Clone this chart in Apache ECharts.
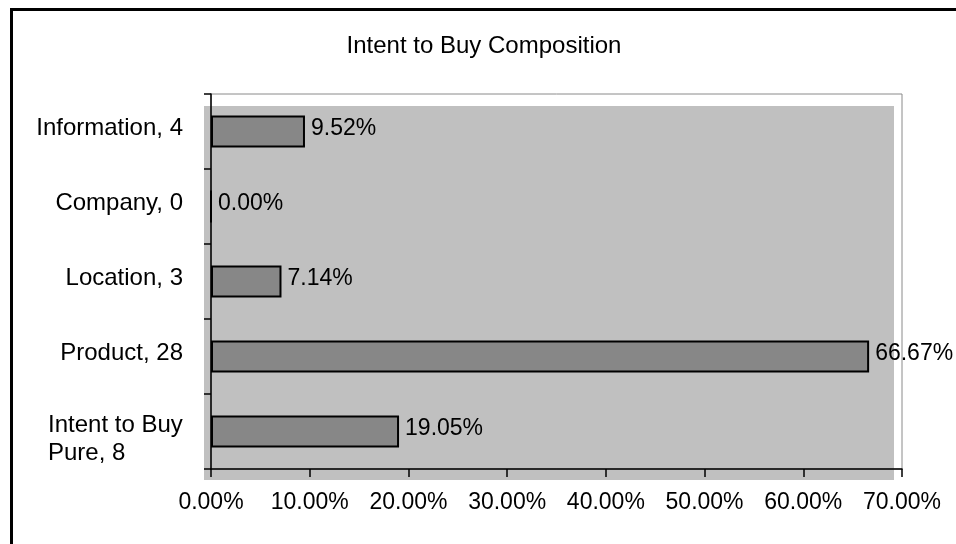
<!DOCTYPE html>
<html>
<head>
<meta charset="utf-8">
<title>Intent to Buy Composition</title>
<script src="https://cdn.jsdelivr.net/npm/echarts@6/dist/echarts.min.js"></script>
<style>
  html, body { margin: 0; padding: 0; background: #ffffff; }
  #chart { width: 956px; height: 544px; }
</style>
</head>
<body>
<div id="chart"></div>
<script>
// Response categories (top to bottom) with their counts
const categories = ['Information, 4', 'Company, 0', 'Location, 3', 'Product, 28', 'Intent to Buy\nPure, 8'];
// Share of all responses, in percent
const shares = [9.52, 0.00, 7.14, 66.67, 19.05];
// Value axis range and step, in percent
const axisMax = 70;
const axisStep = 10;

const FONT = '"Liberation Sans", Arial, sans-serif';

const chart = echarts.init(document.getElementById('chart'), null, { renderer: 'canvas' });

// two-line category names sit a little lower than the single-line ones
const categoryItems = categories.map(c =>
  c.indexOf('\n') >= 0 ? { value: c, textStyle: { padding: [16, 0, 0, 0] } } : c
);

chart.setOption({
  animation: false,
  backgroundColor: '#ffffff',
  title: {
    text: 'Intent to Buy Composition',
    left: 479,
    textAlign: 'center',
    top: 29,
    textStyle: { fontFamily: FONT, fontSize: 24, fontWeight: 'normal', color: '#000000' }
  },
  graphic: [
    // page frame on the top and left edges
    { type: 'rect', z: 10, shape: { x: 10, y: 8, width: 946, height: 3 }, style: { fill: '#000000' } },
    { type: 'rect', z: 10, shape: { x: 10, y: 8, width: 3, height: 536 }, style: { fill: '#000000' } },
    // shaded plot backdrop
    { type: 'rect', z: -10, shape: { x: 204, y: 106, width: 690, height: 374 }, style: { fill: '#c0c0c0' } }
  ],
  grid: {
    left: 211,
    right: 54,
    top: 94,
    bottom: 75,
    show: true,
    borderColor: '#8a8a8a',
    borderWidth: 1,
    backgroundColor: 'transparent'
  },
  xAxis: {
    type: 'value',
    min: 0,
    max: axisMax,
    interval: axisStep,
    splitLine: { show: false },
    axisLine: { show: true, lineStyle: { color: '#000000', width: 1.5 } },
    axisTick: { show: true, length: 8, lineStyle: { color: '#000000', width: 1.5 } },
    axisLabel: {
      margin: 22,
      fontFamily: FONT,
      fontSize: 23,
      color: '#000000',
      formatter: v => v.toFixed(2) + '%'
    }
  },
  yAxis: {
    type: 'category',
    inverse: true,
    data: categoryItems,
    axisLine: { show: true, lineStyle: { color: '#000000', width: 1.5 } },
    axisTick: { show: true, length: 7, alignWithLabel: false, lineStyle: { color: '#000000', width: 1.5 } },
    axisLabel: {
      margin: 28,
      fontFamily: FONT,
      fontSize: 24,
      color: '#000000',
      padding: [0, 0, 6, 0],
      formatter: function (v) {
        if (v.indexOf('\n') >= 0) {
          return v.split('\n').map(s => '{p|' + s + '}').join('\n');
        }
        return v;
      },
      rich: {
        p: { fontFamily: FONT, fontSize: 24, color: '#000000', width: 135, align: 'left', lineHeight: 28 }
      }
    }
  },
  series: [{
    type: 'bar',
    data: shares,
    barWidth: 32,
    itemStyle: { color: '#878787', borderColor: '#000000', borderWidth: 2 },
    label: {
      show: true,
      position: 'right',
      distance: 6,
      offset: [0, -3],
      fontFamily: FONT,
      fontSize: 23,
      color: '#000000',
      formatter: p => p.value.toFixed(2) + '%'
    }
  }]
});
</script>
</body>
</html>
